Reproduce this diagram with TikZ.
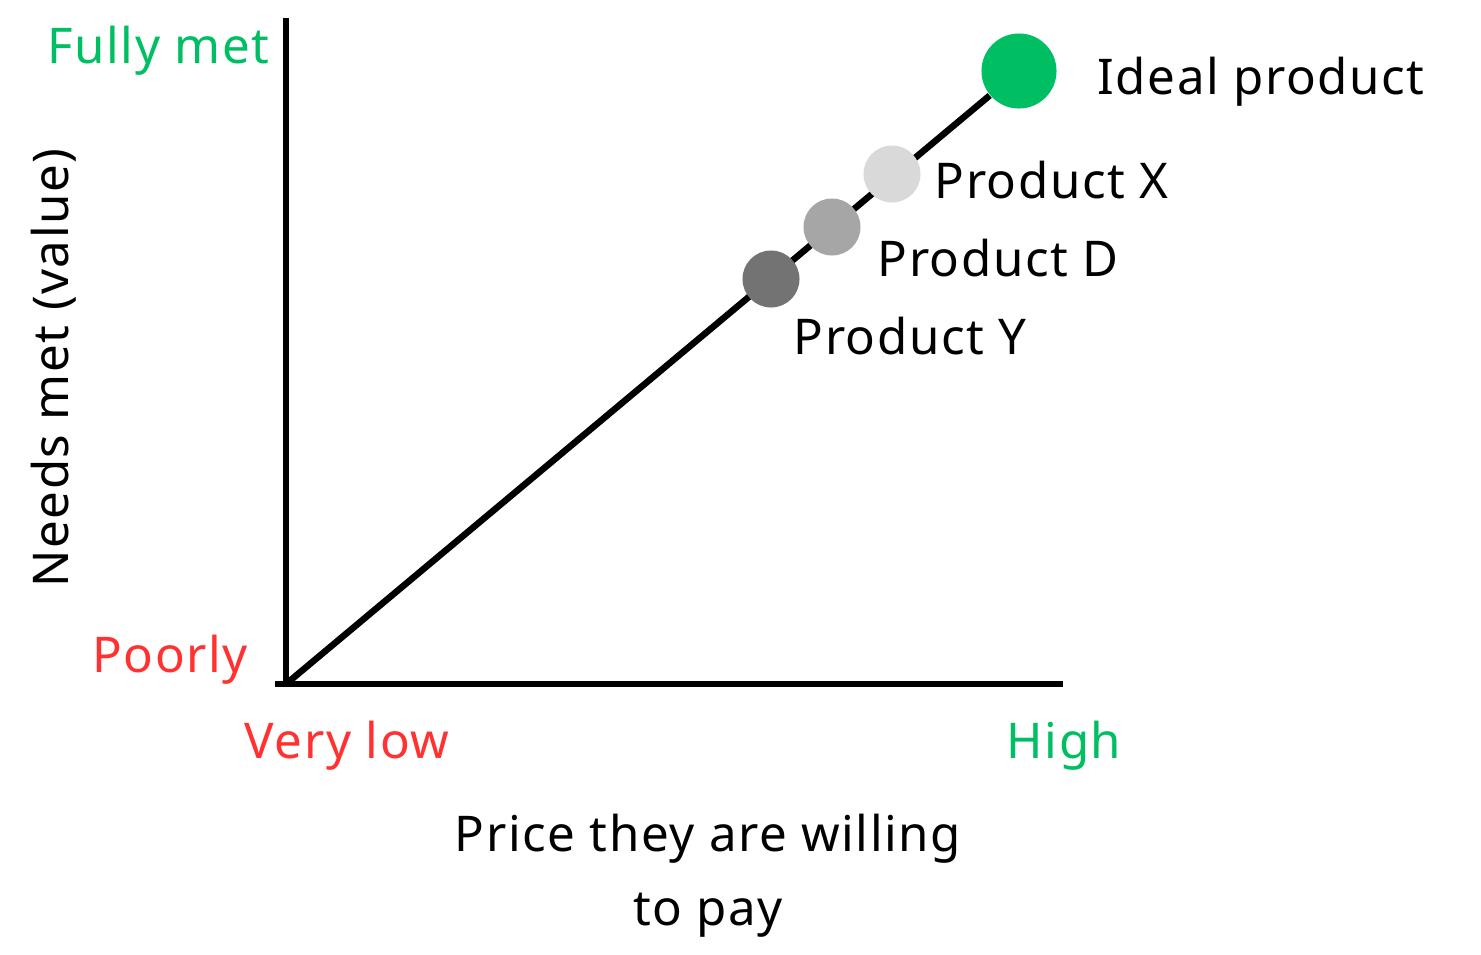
\documentclass[tikz,border=0pt]{standalone}
\usepackage{fontspec}
\setmainfont[LetterSpace=3.2]{Noto Sans}
\definecolor{goodgreen}{HTML}{00BF63}
\definecolor{badred}{HTML}{FF3131}
\definecolor{greyx}{HTML}{D9D9D9}
\definecolor{greyd}{HTML}{A6A6A6}
\definecolor{greyy}{HTML}{737373}
\tikzset{
    axis/.style={line width=1.85pt},
    dot/.style={circle, inner sep=0pt, minimum size=0.57cm},
    lbl/.style={inner sep=0pt, font=\fontsize{14}{17}\selectfont}
}
\begin{document}
\begin{tikzpicture}[x=0.01cm, y=-0.01cm]
    \useasboundingbox (0,0) rectangle (1481,954);

    % Axis ends
    \coordinate (origin) at (286, 684);
    \coordinate (ytop) at (286, 18);
    \coordinate (xend) at (1063, 684);

    % Draw axes
    \draw[axis] (ytop) -- (origin);
    \draw[axis] ([xshift=-3]origin) -- (xend);

    % Ideal point and the line to it
    \node[dot, fill=goodgreen, minimum size=0.75cm] (ideal) at (1019, 71) {};
    \draw[axis] (origin) -- (ideal);

    % Products on the line
    \node[dot, fill=greyx] (prodx) at (892, 174) {};
    \node[dot, fill=greyd] (prodd) at (832, 227) {};
    \node[dot, fill=greyy] (prody) at (771, 279) {};

    % Product labels
    \node[lbl, anchor=base west] (idealtxt) at (1097, 94) {Ideal product};
    \node[lbl, anchor=base west] (prodxtxt) at (934, 198) {Product X};
    \node[lbl, anchor=base west] (proddtxt) at (877, 276) {Product D};
    \node[lbl, anchor=base west] (prodytxt) at (793, 354) {Product Y};

    % Axis labels
    \node[lbl, anchor=base east, text=goodgreen] (fully) at (270, 63) {Fully met};
    \node[lbl, anchor=base, text=badred] (poorly) at (170, 672) {Poorly};
    \node[lbl, anchor=base, text=badred] (verylow) at (347, 758) {Very low};
    \node[lbl, anchor=base, text=goodgreen] (high) at (1064, 758) {High};
    \node[lbl, anchor=base, rotate=90] (ylabel) at (68, 368) {Needs met (value)};
    \node[lbl, anchor=base] (xlabel1) at (708, 851) {Price they are willing};
    \node[lbl, anchor=base] (xlabel2) at (708, 925) {to pay};
\end{tikzpicture}
\end{document}
